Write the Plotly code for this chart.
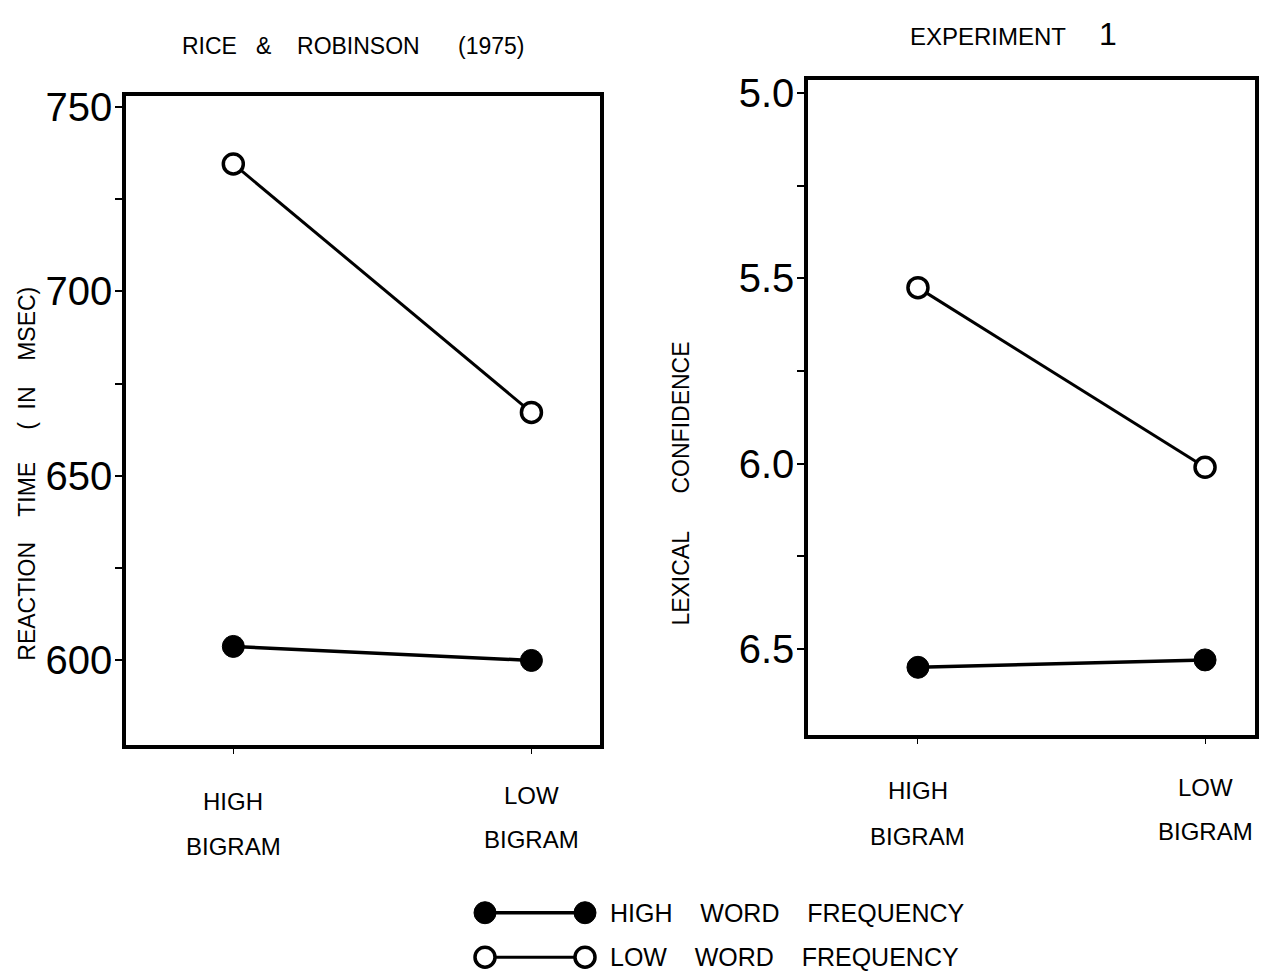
import plotly.graph_objects as go

# ---- data ----
bigram = ["HIGH", "LOW"]
bigram_line2 = ["BIGRAM", "BIGRAM"]
series_names = ["HIGH    WORD    FREQUENCY", "LOW    WORD    FREQUENCY"]

rt_high_freq = [603.8, 600.0]
rt_low_freq = [734.5, 667.2]

conf_high_freq = [6.55, 6.53]
conf_low_freq = [5.525, 6.01]

rt_ticks = [600, 625, 650, 675, 700, 725, 750]
rt_ticktext = ["600", "", "650", "", "700", "", "750"]
conf_ticks = [5.0, 5.25, 5.5, 5.75, 6.0, 6.25, 6.5]
conf_ticktext = ["5.0", "", "5.5", "", "6.0", "", "6.5"]

# page body margin is removed (post_script) so the figure fills the 1282x975 window
W, H = 1282, 975
OFF = 0
FONT = "Liberation Sans, Arial, sans-serif"
xpos = list(range(len(bigram)))


def px_x(p):
    return min(1.0, max(0.0, (p - OFF) / W))


def px_y(p):
    return min(1.0, max(0.0, 1 - (p - OFF) / H))


fig = go.Figure()

filled = dict(symbol="circle", size=22, color="black", line=dict(color="black", width=1))
opened = dict(symbol="circle", size=20, color="white", line=dict(color="black", width=3.5))

# left panel
fig.add_trace(go.Scatter(x=xpos, y=rt_high_freq, mode="lines+markers", xaxis="x", yaxis="y",
                         line=dict(color="black", width=3.5), marker=filled, showlegend=False))
fig.add_trace(go.Scatter(x=xpos, y=rt_low_freq, mode="lines+markers", xaxis="x", yaxis="y",
                         line=dict(color="black", width=3), marker=opened, showlegend=False))
# right panel
fig.add_trace(go.Scatter(x=xpos, y=conf_high_freq, mode="lines+markers", xaxis="x2", yaxis="y2",
                         line=dict(color="black", width=3.5), marker=filled, showlegend=False))
fig.add_trace(go.Scatter(x=xpos, y=conf_low_freq, mode="lines+markers", xaxis="x2", yaxis="y2",
                         line=dict(color="black", width=3), marker=opened, showlegend=False))
# legend keys
fig.add_trace(go.Scatter(x=[0, 1], y=[1, 1], mode="lines+markers", xaxis="x3", yaxis="y3",
                         line=dict(color="black", width=3.5), marker=filled, showlegend=False, hoverinfo="skip"))
fig.add_trace(go.Scatter(x=[0, 1], y=[0, 0], mode="lines+markers", xaxis="x3", yaxis="y3",
                         line=dict(color="black", width=3), marker=opened, showlegend=False, hoverinfo="skip"))

axis_common = dict(showgrid=False, zeroline=False, showline=True, linecolor="black", linewidth=3.5,
                   mirror=True, ticks="outside", tickcolor="black", color="black")

fig.update_layout(
    width=W, height=H,
    margin=dict(l=0, r=0, t=0, b=0),
    paper_bgcolor="white", plot_bgcolor="white",
    font=dict(family=FONT, color="black"),
    xaxis=dict(domain=[px_x(126), px_x(600)], range=[-0.36, 1.23], tickvals=xpos, ticktext=["", ""],
               ticklen=6, tickwidth=1, **axis_common),
    yaxis=dict(domain=[px_y(742), px_y(86)], range=[577.2, 752.9], tickvals=rt_ticks, ticktext=rt_ticktext,
               ticklen=7, tickwidth=2, ticklabelstandoff=-5, tickfont=dict(size=40, family=FONT),
               **axis_common),
    xaxis2=dict(domain=[px_x(808), px_x(1255)], range=[-0.383, 1.174], tickvals=xpos, ticktext=["", ""],
                ticklen=6, tickwidth=1, anchor="y2", **axis_common),
    yaxis2=dict(domain=[px_y(732), px_y(70)], range=[6.732, 4.965], tickvals=conf_ticks,
                ticktext=conf_ticktext, ticklen=7, tickwidth=2, anchor="x2", ticklabelstandoff=-5,
                tickfont=dict(size=40, family=FONT), **axis_common),
    xaxis3=dict(domain=[px_x(465), px_x(605)], range=[-0.2, 1.2], visible=False, anchor="y3"),
    yaxis3=dict(domain=[px_y(975), px_y(895)], range=[-0.4, 1.378], visible=False, anchor="x3"),
)

ann = []
# titles
ann.append(dict(text="RICE   &    ROBINSON      (1975)", x=px_x(353), y=px_y(35), xref="paper", yref="paper",
                showarrow=False, font=dict(size=23, family=FONT), xanchor="center", yanchor="middle"))
ann.append(dict(text="EXPERIMENT     <span style='font-size:32px'>1</span>", x=px_x(1013), y=px_y(23),
                xref="paper", yref="paper", showarrow=False, font=dict(size=24, family=FONT),
                xanchor="center", yanchor="middle"))
# y titles
ann.append(dict(text="REACTION    TIME     (  IN    MSEC)", x=px_x(27), y=px_y(468), xref="paper",
                yref="paper", showarrow=False, textangle=-90, font=dict(size=23, family=FONT),
                xanchor="center", yanchor="middle"))
ann.append(dict(text="LEXICAL      CONFIDENCE", x=px_x(681), y=px_y(478), xref="paper", yref="paper",
                showarrow=False, textangle=-90, font=dict(size=23, family=FONT), xanchor="center",
                yanchor="middle"))
# category labels
left_y = [(800, 845), (793, 838)]
right_y = [(788, 835), (785, 830)]
for i, (l1, l2) in enumerate(zip(bigram, bigram_line2)):
    for xr, ys in (("x", left_y[i]), ("x2", right_y[i])):
        ann.append(dict(text=l1, x=xpos[i], y=px_y(ys[0]), xref=xr, yref="paper", showarrow=False,
                        font=dict(size=24, family=FONT), xanchor="center", yanchor="middle"))
        ann.append(dict(text=l2, x=xpos[i], y=px_y(ys[1]), xref=xr, yref="paper", showarrow=False,
                        font=dict(size=24, family=FONT), xanchor="center", yanchor="middle"))
# legend texts
for name, yy in zip(series_names, [1, 0]):
    ann.append(dict(text=name, x=px_x(608), y=yy, xref="paper", yref="y3", showarrow=False,
                    font=dict(size=25, family=FONT), xanchor="left", yanchor="middle"))

fig.update_layout(annotations=ann)
fig.write_html("out.html", config={"displayModeBar": False},
               post_script="document.body.style.margin='0px';document.body.style.overflow='hidden';")
